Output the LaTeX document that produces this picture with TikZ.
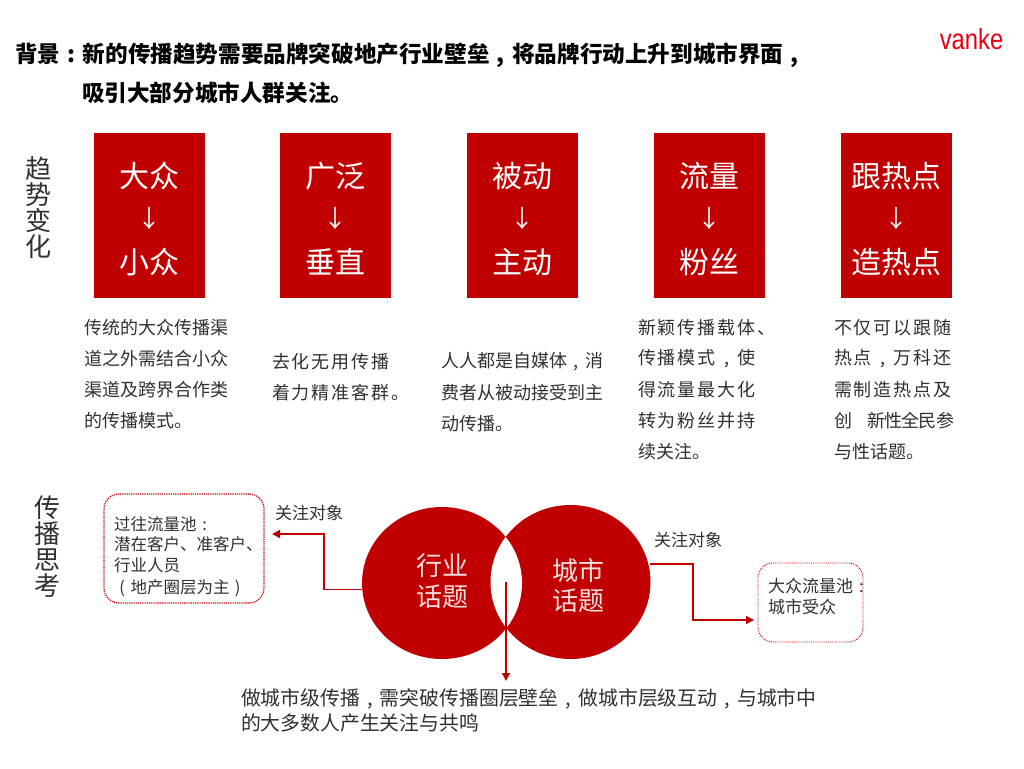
\documentclass[tikz,border=0pt]{standalone}
\usepackage{graphicx}
\usepackage{fontspec}
\setmainfont{Noto Sans CJK SC}
\newfontfamily\logofont{Liberation Sans}
\definecolor{vred}{HTML}{C00000}
\definecolor{logored}{HTML}{E60012}
\definecolor{txt}{HTML}{303030}
\newcommand{\fs}[1]{\fontsize{#1pt}{#1pt}\selectfont}
\newcommand{\spc}[1]{\addfontfeature{LetterSpace=#1}}
\newcommand{\cm}{\makebox[1em][c]{,}}
\newcommand{\cl}{\makebox[1em][c]{:}}
\newcommand{\pl}{\makebox[1em][c]{(}}
\newcommand{\pr}{\makebox[1em][c]{)}}
\usetikzlibrary{arrows.meta}
\tikzset{
  x=1pt,y=-1pt,
  every node/.style={inner sep=0pt,outer sep=0pt,text=txt},
  title/.style={anchor=west,font=\fs{22.6}\bfseries,text=black},
  redbox/.style={fill=vred,minimum width=110.5pt,minimum height=165pt,anchor=north west},
  boxtxt/.style={text=white,font=\fs{30}},
  vert/.style={font=\fs{26},align=center,text=txt},
  desc/.style={anchor=west,font=\fs{18}},
  lab/.style={anchor=west,font=\fs{17}},
  pool/.style={draw=vred,densely dotted,line width=1.2pt,rounded corners=15pt,anchor=north west},
  wire/.style={draw=vred,line width=1.5pt,-{Triangle[length=8pt,width=8pt]}},
  circtxt/.style={text=white!88!vred,font=\fs{26},align=center}
}
\begin{document}
\begin{tikzpicture}
\useasboundingbox (0,0) rectangle (1024,768);
\node[title] (t1) at (15,55) {背景\cl 新的传播趋势需要品牌突破地产行业壁垒\cm 将品牌行动上升到城市界面\cm};
\node[title] (t2) at (82,93) {吸引大部分城市人群关注。};
\node[text=logored,font=\fs{29}\logofont] (logo) at (971.5,39) {\scalebox{.82}[1]{vanke}};
\node[vert] (v1) at (38,208) {趋\\势\\变\\化};
\node[vert] (v2) at (47.5,547) {传\\播\\思\\考};

\foreach \n/\x/\a/\b in {b1/94/大众/小众,b2/280/广泛/垂直,b3/467/被动/主动,b4/654/流量/粉丝,b5/841/跟热点/造热点}{
  \node[redbox] (\n) at (\x,133) {};
  \node[boxtxt] (\n a) at ([yshift=-43pt]\n.north) {\a};
  \node[boxtxt,font=\fs{24}] (\n m) at ([yshift=-85pt]\n.north) {↓};
  \node[boxtxt] (\n b) at ([yshift=-129pt]\n.north) {\b};
}

\node[desc] (d11) at (84,328) {传统的大众传播渠};
\node[desc] (d12) at (84,359) {道之外需结合小众};
\node[desc] (d13) at (84,390) {渠道及跨界合作类};
\node[desc] (d14) at (84,421) {的传播模式。};

\node[desc] (d21) at (272,362) {\spc{11}去化无用传播};
\node[desc] (d22) at (272,393) {\spc{11}着力精准客群。};

\node[desc] (d31) at (441,362) {人人都是自媒体\cm 消};
\node[desc] (d32) at (441,393) {费者从被动接受到主};
\node[desc] (d33) at (441,424) {动传播。};

\node[desc] (d41) at (638,328) {\spc{11}新颖传播载体、};
\node[desc] (d42) at (638,359) {\spc{11}传播模式\hspace{2pt}\cm\hspace{2pt}使};
\node[desc] (d43) at (638,390) {\spc{11}得流量最大化};
\node[desc] (d44) at (638,421) {\spc{11}转为粉丝并持};
\node[desc] (d45) at (638,452) {续关注。};

\node[desc] (d51) at (834,328) {\spc{11}不仅可以跟随};
\node[desc] (d52) at (834,359) {\spc{11}热点\hspace{2pt}\cm\hspace{2pt}万科还};
\node[desc] (d53) at (834,390) {\spc{11}需制造热点及};
\node[desc] (d54) at (834,421) {创\hspace{15pt}{\spc{-4}新性全民参}};
\node[desc] (d55) at (834,452) {与性话题。};

% circles
\fill[vred] (442,583) ellipse [x radius=80,y radius=76];
\fill[vred] (570.5,582) ellipse [x radius=80,y radius=77];
\begin{scope}
  \clip (442,583) ellipse [x radius=80,y radius=76];
  \fill[white] (570.5,582) ellipse [x radius=80,y radius=77];
\end{scope}
\coordinate (cl) at (362,589.5);
\coordinate (cr) at (650,564);
\coordinate (clens) at (506,582);
\coordinate (down) at (506,681);
\node[circtxt] (c1) at (442,581) {行业\\[5pt]话题};
\node[circtxt] (c2) at (578,586) {城市\\[4pt]话题};

% left pool
\node[pool,minimum width=160pt,minimum height=109pt] (p1) at (104,494) {};
\node[anchor=west,font=\fs{16.5}] (p1a) at (114,524) {过往流量池\cl};
\node[anchor=west,font=\fs{16.5}] (p1b) at (114,544) {潜在客户、准客户、};
\node[anchor=west,font=\fs{16.5}] (p1c) at (114,565) {行业人员};
\node[anchor=west,font=\fs{16.5}] (p1d) at (114,588) {\pl 地产圈层为主\pr};
\node[lab] (l1) at (275,513) {关注对象};
\draw[wire] (cl) -- (324,589.5) -- (324,534) -- (272,534);

% right pool
\node[pool,line width=.9pt,minimum width=105pt,minimum height=79pt] (p2) at (758,563) {};
\node[anchor=west,font=\fs{17}] (p2a) at (768,586) {大众流量池\cl};
\node[anchor=west,font=\fs{17}] (p2b) at (768,607) {城市受众};
\node[lab] (l2) at (654,540) {关注对象};
\draw[wire] (cr) -- (693,564) -- (693,620) -- (754,620);

\draw[wire,line width=1.2pt] (clens) -- (down);

\node[anchor=west,font=\fs{19.85}] (n1) at (241,699) {做城市级传播\cm 需突破传播圈层壁垒\cm 做城市层级互动\cm 与城市中};
\node[anchor=west,font=\fs{19.85}] (n2) at (241,723) {的大多数人产生关注与共鸣};
\end{tikzpicture}
\end{document}
